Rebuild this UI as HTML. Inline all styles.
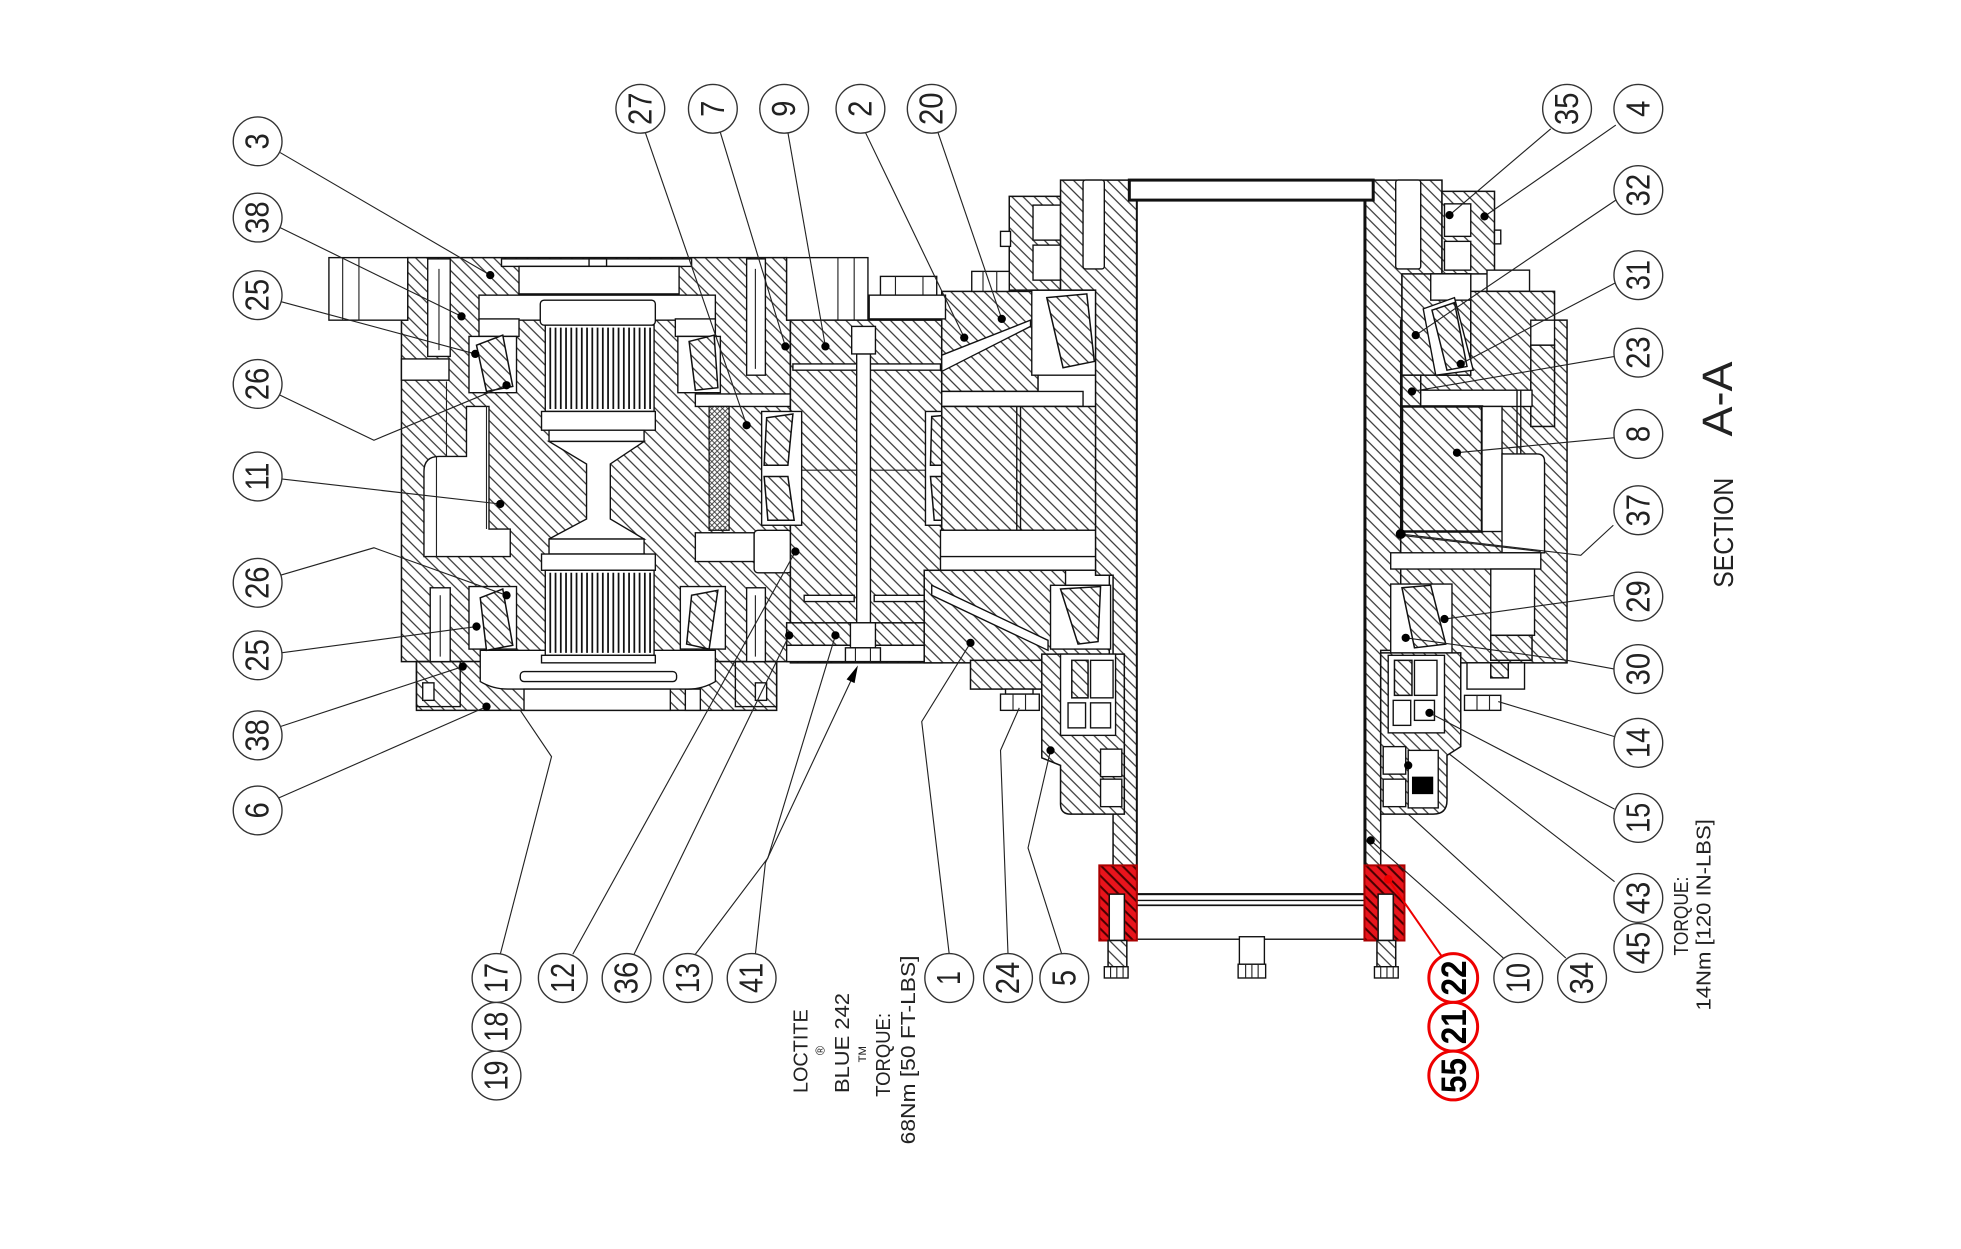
<!DOCTYPE html>
<html><head><meta charset="utf-8"><style>
html,body{margin:0;padding:0;background:#fff;}
svg{display:block;}
.h{fill:url(#h);stroke:#111;stroke-width:1.2}
.w{fill:#fff;stroke:#111;stroke-width:1.1}
.x{fill:url(#x);stroke:#111;stroke-width:1}
.l{fill:none;stroke:#222;stroke-width:0.9}
.o{fill:none;stroke:#111;stroke-width:1.1}
.c{fill:#fff;stroke:#333;stroke-width:1.1}
.t{font-family:"Liberation Sans",sans-serif;font-size:27px;fill:#222}
.cr{fill:#fff;stroke:#e00;stroke-width:2.4}
.tr{font-family:"Liberation Sans",sans-serif;font-size:28px;font-weight:bold;fill:#000}
.s{font-family:"Liberation Sans",sans-serif;font-size:16px;fill:#222}
.d{fill:#000}
</style></head><body>
<svg width="1961" height="1249" viewBox="0 0 1568 998.7" preserveAspectRatio="none" xmlns="http://www.w3.org/2000/svg">
<defs>
<pattern id="h" width="6.3" height="6.3" patternUnits="userSpaceOnUse" patternTransform="rotate(-45)"><rect width="6.3" height="6.3" fill="#fff"/><line x1="1" y1="-1" x2="1" y2="8" stroke="#222" stroke-width="0.9"/></pattern>
<pattern id="x" width="3" height="3" patternUnits="userSpaceOnUse" patternTransform="rotate(-45)"><rect width="3" height="3" fill="#fff"/><line x1="0.5" y1="-1" x2="0.5" y2="4" stroke="#333" stroke-width="0.7"/><line x1="-1" y1="0.5" x2="4" y2="0.5" stroke="#333" stroke-width="0.7"/></pattern>
<pattern id="rd" width="6" height="6" patternUnits="userSpaceOnUse" patternTransform="rotate(-45)"><rect width="6" height="6" fill="#e8141c"/><line x1="1" y1="-1" x2="1" y2="7" stroke="#400" stroke-width="1.6"/></pattern>
</defs>
<rect width="1568" height="998.7" fill="#fff"/>

<!-- LEFT HOUSING -->
<path class="h" d="M326,206 H629 V256 H632 V529 H321 V256 H326 Z"/>
<rect class="w" x="263" y="206" width="63" height="50"/>
<path class="l" d="M274,206V256M287,206V256"/>
<rect class="w" x="629" y="206" width="65" height="50"/>
<path class="l" d="M670,206V256M683,206V256"/>
<rect class="h" x="333" y="529" width="288" height="39"/>
<rect class="o" x="333" y="529" width="35" height="36"/>
<rect class="o" x="588" y="529" width="33" height="36"/>
<rect class="w" x="338" y="546" width="9" height="14"/>
<rect class="w" x="604" y="546" width="9" height="14"/>
<rect class="w" x="548" y="551" width="12" height="17"/>
<path class="w" d="M384,520 H572 V545 Q562,551 550,551 H406 Q394,551 384,545 Z"/>
<rect class="w" x="419" y="551" width="117" height="17"/>
<rect class="w" x="401" y="207" width="152" height="6"/>
<rect class="w" x="471" y="207" width="14" height="6"/>
<rect class="w" x="415" y="213" width="128" height="22"/>
<rect class="w" x="383" y="236" width="189" height="20"/>
<rect class="w" x="383" y="255" width="32" height="14"/>
<rect class="w" x="540" y="255" width="32" height="14"/>

<!-- left cavities -->
<path class="w" d="M339,377 Q339,365 351,365 H373 V325 H391 V423 H408 V445 H339 Z"/>
<path class="l" d="M349,365V445M389,325V423M357,305V365"/>
<rect class="w" x="321" y="287" width="38" height="17"/>
<rect class="w" x="342" y="207" width="18" height="78"/>
<rect class="w" x="597" y="207" width="15" height="93"/>
<rect class="w" x="344" y="470" width="16" height="59"/>
<rect class="w" x="597" y="470" width="15" height="59"/>
<path class="l" d="M351,215V280M604,215V295M352,476V525M604,476V525"/>
<rect class="w" x="556" y="315" width="76" height="10"/>
<rect class="x" x="567" y="325" width="16" height="99"/>
<rect class="w" x="556" y="426" width="47" height="23"/>
<rect class="w" x="603" y="424" width="30" height="34" rx="3"/>

<!-- bearings in left housing -->
<rect class="w" x="375" y="269" width="38" height="45"/>
<polygon class="h" points="381,276 402,268 410,309 389,313"/>
<rect class="w" x="542" y="269" width="34" height="45"/>
<polygon class="h" points="551,273 571,268 574,310 556,312"/>
<rect class="w" x="375" y="469" width="38" height="50"/>
<polygon class="h" points="384,478 402,471 410,516 389,520"/>
<rect class="w" x="544" y="469" width="36" height="50"/>
<polygon class="h" points="553,476 574,472 567,519 549,515"/>

<!-- gears -->
<rect class="w" x="432" y="240" width="92" height="20" rx="3"/>
<rect class="w" x="436" y="260" width="87" height="69"/>
<path d="M440,262V327M444.2,262V327M448.4,262V327M452.6,262V327M456.8,262V327M461,262V327M465.2,262V327M469.4,262V327M473.6,262V327M477.8,262V327M482,262V327M486.2,262V327M490.4,262V327M494.6,262V327M498.8,262V327M503,262V327M507.2,262V327M511.4,262V327M515.6,262V327M519.8,262V327" stroke="#111" stroke-width="1.4"/>
<rect class="w" x="433" y="329" width="91" height="15"/>
<rect class="w" x="439" y="344" width="76" height="9"/>
<polygon class="w" points="439,353 515,353 488,371 488,415 515,431 439,431 469,415 469,371"/>
<rect class="w" x="439" y="431" width="76" height="12"/>
<rect class="w" x="433" y="443" width="91" height="13"/>
<rect class="w" x="436" y="456" width="87" height="68"/>
<path d="M440,458V522M444.2,458V522M448.4,458V522M452.6,458V522M456.8,458V522M461,458V522M465.2,458V522M469.4,458V522M473.6,458V522M477.8,458V522M482,458V522M486.2,458V522M490.4,458V522M494.6,458V522M498.8,458V522M503,458V522M507.2,458V522M511.4,458V522M515.6,458V522M519.8,458V522" stroke="#111" stroke-width="1.4"/>
<rect class="w" x="433" y="524" width="91" height="6"/>
<rect class="w" x="416" y="537" width="125" height="8" rx="3"/>

<!-- CARRIER -->
<rect class="h" x="632" y="256" width="121" height="274"/>
<rect class="w" x="634" y="291" width="118" height="5"/>
<rect class="w" x="643" y="476" width="40" height="5"/>
<rect class="w" x="699" y="476" width="41" height="5"/>
<path class="l" d="M638,376H773"/>
<rect class="h" x="629" y="498" width="124" height="18"/>
<rect class="w" x="629" y="516" width="124" height="13"/>
<rect class="w" x="685" y="283" width="11" height="215"/>
<rect class="w" x="681" y="261" width="19" height="22"/>
<rect class="w" x="680" y="498" width="20" height="20"/>
<rect class="w" x="676" y="518" width="28" height="11"/>
<path class="l" d="M684,518V529M696,518V529"/>
<rect class="w" x="609" y="329" width="32" height="91"/>
<polygon class="h" points="613,334 634,331 630,372 611,372"/>
<polygon class="h" points="611,381 630,381 635,416 614,416"/>
<rect class="w" x="740" y="329" width="32" height="91"/>
<polygon class="h" points="745,333 767,331 763,372 744,372"/>
<polygon class="h" points="744,381 763,381 768,416 747,416"/>

<!-- CENTER RIGHT -->
<rect class="h" x="753" y="233" width="77" height="80"/>
<polygon class="w" points="753,284 824,256 824,261 753,297"/>
<rect class="w" x="825" y="232" width="52" height="68"/>
<polygon class="h" points="837,238 869,235 875,289 850,294"/>
<rect class="h" x="807" y="157" width="41" height="75"/>
<rect class="w" x="826" y="164" width="22" height="28"/>
<rect class="w" x="826" y="196" width="22" height="28"/>
<rect class="w" x="800" y="185" width="8" height="12"/>
<rect class="w" x="777" y="217" width="30" height="16"/>
<path class="l" d="M786,217V233M797,217V233"/>
<rect class="w" x="704" y="221" width="45" height="15"/>
<path class="l" d="M716,221V236M738,221V236"/>
<rect class="w" x="695" y="236" width="61" height="19"/>
<rect class="w" x="753" y="313" width="113" height="12"/>
<rect class="h" x="753" y="325" width="130" height="99"/>
<path class="o" d="M813,325V424M816,325V424"/>
<rect class="w" x="752" y="424" width="136" height="32"/>
<path class="o" d="M752,445H888"/>
<rect class="h" x="739" y="456" width="148" height="74"/>
<polygon class="w" points="745,468 838,512 838,520 745,476"/>
<rect class="w" x="852" y="456" width="35" height="12"/>
<rect class="w" x="840" y="468" width="48" height="51"/>
<polygon class="h" points="848,471 880,469 878,513 862,515"/>
<rect class="h" x="776" y="528" width="72" height="23"/>
<rect class="w" x="804" y="551" width="22" height="4"/>
<rect class="w" x="800" y="555" width="31" height="13"/>
<path class="l" d="M810,555V568M820,555V568"/>

<!-- SHAFT / TUBE -->
<path class="h" d="M848,144 H909 V700 H890 V460 H876 V232 H848 Z"/>
<rect class="w" x="866" y="144" width="17" height="71" rx="2"/>
<path class="h" d="M1092,144 H1153 V220 H1121 V520 H1104 V700 H1092 Z"/>
<rect class="w" x="1116" y="144" width="20" height="71" rx="2"/>
<rect fill="#fff" stroke="#111" stroke-width="1.6" x="909" y="160" width="182" height="555"/>
<rect fill="#fff" stroke="#111" stroke-width="2.4" x="903" y="144" width="195" height="16"/>
<rect fill="#fff" stroke="#111" stroke-width="1.6" x="904" y="715" width="192" height="9"/>
<path class="o" d="M906,720H1094"/>
<rect class="w" x="909" y="724" width="182" height="27"/>
<rect class="w" x="991" y="749" width="20" height="22"/>
<rect class="w" x="990" y="771" width="22" height="11"/>
<path class="l" d="M996,771V782M1001,771V782M1006,771V782"/>

<!-- RIGHT HOUSING -->
<rect class="h" x="1153" y="153" width="42" height="66"/>
<rect class="w" x="1155" y="163" width="21" height="26"/>
<rect class="w" x="1155" y="193" width="21" height="23"/>
<rect class="w" x="1195" y="184" width="5" height="11"/>
<rect class="w" x="1189" y="216" width="34" height="17"/>
<path class="h" d="M1120,256 H1175 V233 H1243 V256 H1253 V530 H1120 Z"/>
<rect class="w" x="1224" y="256" width="19" height="20"/>
<rect class="h" x="1224" y="276" width="19" height="65"/>
<rect class="h" x="1121" y="219" width="55" height="81"/>
<rect class="w" x="1144" y="219" width="32" height="21"/>
<polygon class="w" points="1138,247 1163,238 1178,296 1148,300"/>
<polygon class="h" points="1145,248 1163,242 1173,293 1157,296"/>
<rect class="h" x="1121" y="300" width="15" height="25"/>
<rect class="w" x="1136" y="312" width="89" height="13"/>
<rect class="h" x="1121" y="325" width="64" height="100" style="stroke-width:2"/>
<rect class="w" x="1185" y="325" width="16" height="100"/>
<path class="w" d="M1201,363 H1229 Q1235,363 1235,369 V442 H1201 Z"/>
<path class="o" d="M1213,312V363M1216,312V363"/>
<rect class="w" x="1112" y="442" width="120" height="13"/>
<path class="l" d="M1120,428L1232,441"/>
<rect class="w" x="1192" y="455" width="35" height="53"/>
<rect class="h" x="1192" y="508" width="33" height="20"/>
<rect class="w" x="1112" y="467" width="49" height="56"/>
<polygon class="h" points="1121,470 1144,468 1156,515 1131,518"/>
<rect class="w" x="1173" y="530" width="46" height="21"/>
<rect class="h" x="1192" y="530" width="14" height="12"/>
<rect class="w" x="1171" y="556" width="29" height="12"/>
<path class="l" d="M1181,556V568M1191,556V568"/>

<!-- LOWER HOUSINGS -->
<path class="h" d="M833,523 H899 V651 H856 Q848,651 848,643 V612 L833,606 Z"/>
<rect class="w" x="848" y="523" width="44" height="65"/>
<rect class="h" x="857" y="528" width="13" height="30"/>
<rect class="w" x="872" y="528" width="18" height="30"/>
<rect class="w" x="854" y="562" width="14" height="20"/>
<rect class="w" x="872" y="562" width="16" height="20"/>
<rect class="w" x="880" y="599" width="17" height="22"/>
<rect class="w" x="880" y="623" width="17" height="22"/>
<path class="h" d="M1104,522 H1168 V597 L1157,604 V640 Q1157,651 1146,651 H1104 Z"/>
<rect class="w" x="1110" y="524" width="45" height="62"/>
<rect class="h" x="1115" y="528" width="14" height="28"/>
<rect class="w" x="1131" y="528" width="18" height="28"/>
<rect class="w" x="1131" y="560" width="16" height="16"/>
<rect class="w" x="1114" y="560" width="14" height="20"/>
<rect class="w" x="1106" y="597" width="18" height="22"/>
<rect class="w" x="1106" y="623" width="18" height="22"/>
<rect class="w" x="1126" y="600" width="24" height="46"/>
<rect fill="#000" x="1129" y="621" width="17" height="14"/>

<!-- RED PARTS -->
<path fill="url(#rd)" stroke="#a00" stroke-width="1.6" d="M879,692 H909 V752 H899 V715 H887 V752 H879 Z"/>
<path fill="url(#rd)" stroke="#a00" stroke-width="1.6" d="M1091,692 H1123 V752 H1114 V715 H1102 V752 H1091 Z"/>
<rect class="w" x="887" y="715" width="12" height="37"/>
<rect class="w" x="1102" y="715" width="12" height="37"/>
<rect class="h" x="886" y="752" width="15" height="21"/>
<rect class="w" x="883" y="773" width="19" height="9"/>
<path class="l" d="M888,773V782M893,773V782M898,773V782"/>
<rect class="h" x="1101" y="752" width="15" height="21"/>
<rect class="w" x="1099" y="773" width="19" height="9"/>
<path class="l" d="M1104,773V782M1109,773V782M1114,773V782"/>

<!-- LEADERS -->
<g class="l">
<polyline points="224,122 392,220"/>
<polyline points="224,182 369,253"/>
<polyline points="224,241 380,283"/>
<polyline points="222,315 299,352 405,308"/>
<polyline points="225,383 400,403"/>
<polyline points="224,460 299,438 405,476"/>
<polyline points="225,522 381,501"/>
<polyline points="224,581 370,533"/>
<polyline points="223,638 389,565"/>
<polyline points="400,763 441,605 416,568"/>
<polyline points="458,763 636,441"/>
<polyline points="507,763 631,508"/>
<polyline points="556,763 614,686 668,508"/>
<polyline points="604,763 612,690 681,543"/>
<polyline points="759,763 737,577 776,514"/>
<polyline points="806,763 800,600 815,566"/>
<polyline points="849,763 822,678 840,600"/>
<polyline points="1202,766 1096,672"/>
<polyline points="1252,766 1126,651"/>
<polyline points="1291,705 1159,603"/>
<polyline points="1291,647 1143,570"/>
<polyline points="1291,589 1198,561"/>
<polyline points="1291,535 1253,528 1124,510"/>
<polyline points="1291,476 1155,495"/>
<polyline points="1290,420 1264,444 1120,427"/>
<polyline points="1291,350 1165,362"/>
<polyline points="1291,285 1129,313"/>
<polyline points="1292,226 1168,291"/>
<polyline points="1292,160 1132,268"/>
<polyline points="1292,100 1187,173"/>
<polyline points="1240,103 1159,172"/>
<polyline points="750,106 801,255"/>
<polyline points="692,106 771,270"/>
<polyline points="630,106 660,277"/>
<polyline points="576,106 628,277"/>
<polyline points="516,106 597,340"/>
</g>
<polyline points="1153,765 1110,703" fill="none" stroke="#e00" stroke-width="1.6"/>
<circle cx="1110" cy="703" r="3.5" fill="#e00"/>
<polygon points="686,532 683.3,546.2 676.9,543.2" fill="#000"/>
<g class="d">
<circle cx="392" cy="220" r="3.3"/><circle cx="369" cy="253" r="3.3"/><circle cx="380" cy="283" r="3.3"/>
<circle cx="405" cy="308" r="3.3"/><circle cx="400" cy="403" r="3.3"/><circle cx="405" cy="476" r="3.3"/>
<circle cx="381" cy="501" r="3.3"/><circle cx="370" cy="533" r="3.3"/><circle cx="389" cy="565" r="3.3"/>
<circle cx="636" cy="441" r="3.3"/><circle cx="668" cy="508" r="3.3"/><circle cx="776" cy="514" r="3.3"/>
<circle cx="840" cy="600" r="3.3"/><circle cx="1096" cy="672" r="3.3"/><circle cx="1143" cy="570" r="3.3"/>
<circle cx="1124" cy="510" r="3.3"/><circle cx="1155" cy="495" r="3.3"/><circle cx="1120" cy="427" r="4"/>
<circle cx="1165" cy="362" r="3.3"/><circle cx="1129" cy="313" r="3.3"/><circle cx="1168" cy="291" r="3.3"/>
<circle cx="1132" cy="268" r="3.3"/><circle cx="1187" cy="173" r="3.3"/><circle cx="1159" cy="172" r="3.3"/>
<circle cx="801" cy="255" r="3.3"/><circle cx="771" cy="270" r="3.3"/><circle cx="660" cy="277" r="3.3"/>
<circle cx="628" cy="277" r="3.3"/><circle cx="597" cy="340" r="3.3"/><circle cx="1126" cy="612" r="3.3"/>
<circle cx="631" cy="508" r="3.3"/>
</g>

<!-- LABEL CIRCLES -->
<g>
<ellipse class="c" cx="206" cy="113" rx="19.5" ry="19.5"/>
<ellipse class="c" cx="206" cy="174" rx="19.5" ry="19.5"/>
<ellipse class="c" cx="206" cy="236" rx="19.5" ry="19.5"/>
<ellipse class="c" cx="206" cy="307" rx="19.5" ry="19.5"/>
<ellipse class="c" cx="206" cy="381" rx="19.5" ry="19.5"/>
<ellipse class="c" cx="206" cy="466" rx="19.5" ry="19.5"/>
<ellipse class="c" cx="206" cy="524" rx="19.5" ry="19.5"/>
<ellipse class="c" cx="206" cy="588" rx="19.5" ry="19.5"/>
<ellipse class="c" cx="206" cy="648" rx="19.5" ry="19.5"/>
<ellipse class="c" cx="512" cy="87" rx="19.5" ry="19.5"/>
<ellipse class="c" cx="570" cy="87" rx="19.5" ry="19.5"/>
<ellipse class="c" cx="627" cy="87" rx="19.5" ry="19.5"/>
<ellipse class="c" cx="688" cy="87" rx="19.5" ry="19.5"/>
<ellipse class="c" cx="745" cy="87" rx="19.5" ry="19.5"/>
<ellipse class="c" cx="1253" cy="87" rx="19.5" ry="19.5"/>
<ellipse class="c" cx="1310" cy="87" rx="19.5" ry="19.5"/>
<ellipse class="c" cx="1310" cy="152" rx="19.5" ry="19.5"/>
<ellipse class="c" cx="1310" cy="220" rx="19.5" ry="19.5"/>
<ellipse class="c" cx="1310" cy="282" rx="19.5" ry="19.5"/>
<ellipse class="c" cx="1310" cy="347" rx="19.5" ry="19.5"/>
<ellipse class="c" cx="1310" cy="408" rx="19.5" ry="19.5"/>
<ellipse class="c" cx="1310" cy="477" rx="19.5" ry="19.5"/>
<ellipse class="c" cx="1310" cy="535" rx="19.5" ry="19.5"/>
<ellipse class="c" cx="1310" cy="594" rx="19.5" ry="19.5"/>
<ellipse class="c" cx="1310" cy="654" rx="19.5" ry="19.5"/>
<ellipse class="c" cx="1310" cy="718" rx="19.5" ry="19.5"/>
<ellipse class="c" cx="1310" cy="758" rx="19.5" ry="19.5"/>
<ellipse class="c" cx="397" cy="782" rx="19.5" ry="19.5"/>
<ellipse class="c" cx="397" cy="821" rx="19.5" ry="19.5"/>
<ellipse class="c" cx="397" cy="860" rx="19.5" ry="19.5"/>
<ellipse class="c" cx="450" cy="782" rx="19.5" ry="19.5"/>
<ellipse class="c" cx="501" cy="782" rx="19.5" ry="19.5"/>
<ellipse class="c" cx="550" cy="782" rx="19.5" ry="19.5"/>
<ellipse class="c" cx="601" cy="782" rx="19.5" ry="19.5"/>
<ellipse class="c" cx="759" cy="782" rx="19.5" ry="19.5"/>
<ellipse class="c" cx="806" cy="782" rx="19.5" ry="19.5"/>
<ellipse class="c" cx="851" cy="782" rx="19.5" ry="19.5"/>
<ellipse class="c" cx="1214" cy="782" rx="19.5" ry="19.5"/>
<ellipse class="c" cx="1265" cy="782" rx="19.5" ry="19.5"/>
<ellipse class="cr" cx="1162" cy="782" rx="19.5" ry="19.5"/>
<ellipse class="cr" cx="1162" cy="821" rx="19.5" ry="19.5"/>
<ellipse class="cr" cx="1162" cy="860" rx="19.5" ry="19.5"/>
</g>
<g class="t" text-anchor="middle" dominant-baseline="central">
<text transform="translate(206,113) rotate(-90)" textLength="13" lengthAdjust="spacingAndGlyphs">3</text>
<text transform="translate(206,174) rotate(-90)" textLength="26" lengthAdjust="spacingAndGlyphs">38</text>
<text transform="translate(206,236) rotate(-90)" textLength="26" lengthAdjust="spacingAndGlyphs">25</text>
<text transform="translate(206,307) rotate(-90)" textLength="26" lengthAdjust="spacingAndGlyphs">26</text>
<text transform="translate(206,381) rotate(-90)" textLength="22" lengthAdjust="spacingAndGlyphs">11</text>
<text transform="translate(206,466) rotate(-90)" textLength="26" lengthAdjust="spacingAndGlyphs">26</text>
<text transform="translate(206,524) rotate(-90)" textLength="26" lengthAdjust="spacingAndGlyphs">25</text>
<text transform="translate(206,588) rotate(-90)" textLength="26" lengthAdjust="spacingAndGlyphs">38</text>
<text transform="translate(206,648) rotate(-90)" textLength="13" lengthAdjust="spacingAndGlyphs">6</text>
<text transform="translate(512,87) rotate(-90)" textLength="26" lengthAdjust="spacingAndGlyphs">27</text>
<text transform="translate(570,87) rotate(-90)" textLength="13" lengthAdjust="spacingAndGlyphs">7</text>
<text transform="translate(627,87) rotate(-90)" textLength="13" lengthAdjust="spacingAndGlyphs">9</text>
<text transform="translate(688,87) rotate(-90)" textLength="13" lengthAdjust="spacingAndGlyphs">2</text>
<text transform="translate(745,87) rotate(-90)" textLength="26" lengthAdjust="spacingAndGlyphs">20</text>
<text transform="translate(1253,87) rotate(-90)" textLength="26" lengthAdjust="spacingAndGlyphs">35</text>
<text transform="translate(1310,87) rotate(-90)" textLength="13" lengthAdjust="spacingAndGlyphs">4</text>
<text transform="translate(1310,152) rotate(-90)" textLength="26" lengthAdjust="spacingAndGlyphs">32</text>
<text transform="translate(1310,220) rotate(-90)" textLength="24" lengthAdjust="spacingAndGlyphs">31</text>
<text transform="translate(1310,282) rotate(-90)" textLength="26" lengthAdjust="spacingAndGlyphs">23</text>
<text transform="translate(1310,347) rotate(-90)" textLength="13" lengthAdjust="spacingAndGlyphs">8</text>
<text transform="translate(1310,408) rotate(-90)" textLength="26" lengthAdjust="spacingAndGlyphs">37</text>
<text transform="translate(1310,477) rotate(-90)" textLength="26" lengthAdjust="spacingAndGlyphs">29</text>
<text transform="translate(1310,535) rotate(-90)" textLength="26" lengthAdjust="spacingAndGlyphs">30</text>
<text transform="translate(1310,594) rotate(-90)" textLength="24" lengthAdjust="spacingAndGlyphs">14</text>
<text transform="translate(1310,654) rotate(-90)" textLength="24" lengthAdjust="spacingAndGlyphs">15</text>
<text transform="translate(1310,718) rotate(-90)" textLength="26" lengthAdjust="spacingAndGlyphs">43</text>
<text transform="translate(1310,758) rotate(-90)" textLength="26" lengthAdjust="spacingAndGlyphs">45</text>
<text transform="translate(397,782) rotate(-90)" textLength="24" lengthAdjust="spacingAndGlyphs">17</text>
<text transform="translate(397,821) rotate(-90)" textLength="24" lengthAdjust="spacingAndGlyphs">18</text>
<text transform="translate(397,860) rotate(-90)" textLength="24" lengthAdjust="spacingAndGlyphs">19</text>
<text transform="translate(450,782) rotate(-90)" textLength="24" lengthAdjust="spacingAndGlyphs">12</text>
<text transform="translate(501,782) rotate(-90)" textLength="26" lengthAdjust="spacingAndGlyphs">36</text>
<text transform="translate(550,782) rotate(-90)" textLength="24" lengthAdjust="spacingAndGlyphs">13</text>
<text transform="translate(601,782) rotate(-90)" textLength="24" lengthAdjust="spacingAndGlyphs">41</text>
<text transform="translate(759,782) rotate(-90)" textLength="11" lengthAdjust="spacingAndGlyphs">1</text>
<text transform="translate(806,782) rotate(-90)" textLength="26" lengthAdjust="spacingAndGlyphs">24</text>
<text transform="translate(851,782) rotate(-90)" textLength="13" lengthAdjust="spacingAndGlyphs">5</text>
<text transform="translate(1214,782) rotate(-90)" textLength="24" lengthAdjust="spacingAndGlyphs">10</text>
<text transform="translate(1265,782) rotate(-90)" textLength="26" lengthAdjust="spacingAndGlyphs">34</text>
</g>
<g class="tr" text-anchor="middle" dominant-baseline="central">
<text transform="translate(1163,782) rotate(-90)" textLength="28" lengthAdjust="spacingAndGlyphs">22</text>
<text transform="translate(1163,821) rotate(-90)" textLength="28" lengthAdjust="spacingAndGlyphs">21</text>
<text transform="translate(1163,860) rotate(-90)" textLength="28" lengthAdjust="spacingAndGlyphs">55</text>
</g>

<!-- NOTES -->
<g class="s" dominant-baseline="central">
<text transform="translate(641,874) rotate(-90)" textLength="67" lengthAdjust="spacingAndGlyphs">LOCTITE</text>
<text transform="translate(656,840) rotate(-90)" text-anchor="middle" style="font-size:10px">®</text>
<text transform="translate(674,874) rotate(-90)" textLength="80" lengthAdjust="spacingAndGlyphs">BLUE 242</text>
<text transform="translate(690,843) rotate(-90)" text-anchor="middle" style="font-size:9px">TM</text>
<text transform="translate(707,877) rotate(-90)" textLength="67" lengthAdjust="spacingAndGlyphs">TORQUE:</text>
<text transform="translate(727,915) rotate(-90)" textLength="151" lengthAdjust="spacingAndGlyphs">68Nm [50 FT-LBS]</text>
<text transform="translate(1345,764) rotate(-90)" textLength="63" lengthAdjust="spacingAndGlyphs">TORQUE:</text>
<text transform="translate(1363,808) rotate(-90)" textLength="153" lengthAdjust="spacingAndGlyphs">14Nm [120 IN-LBS]</text>
<text transform="translate(1378,470) rotate(-90)" style="font-size:22px" textLength="88" lengthAdjust="spacingAndGlyphs">SECTION</text>
<text transform="translate(1374,349) rotate(-90)" style="font-size:34px" textLength="60" lengthAdjust="spacingAndGlyphs">A-A</text>
</g>
</svg>
</body></html>
